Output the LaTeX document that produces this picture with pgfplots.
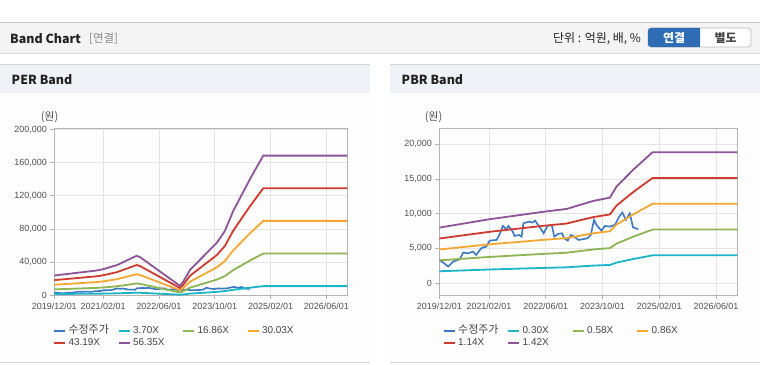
\documentclass[border=0pt]{standalone}
\usepackage{fontspec}
\setmainfont{Liberation Sans}
\newfontfamily\kr{Noto Sans CJK KR}
\usepackage{pgfplots}
\pgfplotsset{compat=1.18}
\definecolor{cprice}{HTML}{3A78C3}
\definecolor{ccyan}{HTML}{1CB4C8}
\definecolor{cgreen}{HTML}{8CB553}
\definecolor{corange}{HTML}{F5A731}
\definecolor{cred}{HTML}{CF3A2E}
\definecolor{cpurple}{HTML}{8D5499}
\definecolor{framegray}{HTML}{B4B4B4}
\definecolor{gridgray}{HTML}{E4E4E4}
\definecolor{ticklab}{HTML}{505050}
\definecolor{hdrbg}{HTML}{F4F4F4}
\definecolor{hdrtop}{HTML}{C4C4C4}
\definecolor{hdrbot}{HTML}{DCDCDC}
\definecolor{panelhdr}{HTML}{EFF2F7}
\definecolor{panelline}{HTML}{D6D6D6}
\definecolor{panelbg}{HTML}{FDFDFD}
\definecolor{btnblue}{HTML}{2E6DB4}
\definecolor{btnborder}{HTML}{BBBBBB}
\definecolor{txtdark}{HTML}{222222}
\definecolor{txtgray}{HTML}{888888}
\definecolor{txtmid}{HTML}{444444}

\pgfplotsset{
  bandaxis/.style={
    scale only axis, anchor=south west,
    axis line style={draw=framegray, line width=1bp},
    grid=major, major grid style={draw=gridgray, line width=0.8bp},
    tick style={draw=framegray, line width=0.8bp},
    tick align=outside, major tick length=4bp,
    xtick pos=left, ytick pos=left,
    xmin=0, xmax=84,
    xtick={0,14,30,46,62,78},
    xticklabels={2019/12/01,2021/02/01,2022/06/01,2023/10/01,2025/02/01,2026/06/01},
    scaled y ticks=false,
    tick label style={font=\fontsize{9}{10}\selectfont, text=ticklab},
    /pgf/number format/assume math mode=true,
    /pgf/number format/1000 sep={,},
    /pgf/number format/fixed,
    legend columns=4,
    legend cell align=left,
    legend image code/.code={\draw[##1, line width=2bp] (0bp,0bp) -- (11bp,0bp);},
    legend style={draw=none, fill=none, inner sep=0pt, outer sep=0pt,
      column sep=0pt, row sep=2bp,
      font=\fontsize{10}{12}\selectfont, text=txtmid,
      nodes={inner sep=0pt, text height=8bp, text depth=2.5bp},
      /tikz/every odd column/.append style={column sep=2.5bp}},
    every axis plot/.append style={no markers},
  }
}

\begin{document}
\begin{tikzpicture}[x=1bp,y=1bp]
\useasboundingbox (0,0) rectangle (760,364);
\fill[white] (0,0) rectangle (760,364);
% ---- page header ----
\fill[hdrbg] (0,311) rectangle (760,342);
\draw[hdrtop, line width=1.2bp] (0,341.6) -- (760,341.6);
\draw[hdrbot, line width=1.5bp] (0,310.5) -- (760,310.5);
\node[anchor=west, inner sep=0pt, font=\kr\bfseries\fontsize{12.5}{14}\selectfont, text=txtdark] at (10,325) {Band Chart};
\node[anchor=west, inner sep=0pt, font=\kr\fontsize{11.5}{13}\selectfont, text=txtgray] at (89,325) {[연결]};
\node[anchor=east, inner sep=0pt, font=\kr\fontsize{12}{13}\selectfont, text=txtdark] at (641,325) {단위 : 억원, 배, \%};
\draw[btnborder, fill=white, rounded corners=3bp, line width=0.8bp] (648,317) rectangle (751,336);
\begin{scope}
\clip (647,316) rectangle (700,337);
\fill[btnblue, rounded corners=3bp] (648,317) rectangle (712,336);
\end{scope}
\node[inner sep=0pt, font=\kr\bfseries\fontsize{12}{13}\selectfont, text=white] at (674,326.5) {연결};
\node[inner sep=0pt, font=\kr\bfseries\fontsize{12}{13}\selectfont, text=txtmid] at (725.5,326.5) {별도};
% ---- panels ----
\fill[panelbg] (0,1.5) rectangle (370,271);
\fill[panelbg] (390,1.5) rectangle (760,271);
\fill[panelhdr] (0,271) rectangle (370,300);
\fill[panelhdr] (390,271) rectangle (760,300);
\draw[panelline, line width=1bp] (0,300) -- (370,300);
\draw[panelline, line width=1bp] (390,300) -- (760,300);
\draw[panelline, line width=1.2bp] (0,1.2) -- (370,1.2);
\draw[panelline, line width=1.2bp] (390,1.2) -- (760,1.2);
\node[anchor=west, inner sep=0pt, font=\kr\bfseries\fontsize{12.5}{14}\selectfont, text=txtdark] at (11.5,284) {PER Band};
\node[anchor=west, inner sep=0pt, font=\kr\bfseries\fontsize{12.5}{14}\selectfont, text=txtdark] at (401.5,284) {PBR Band};
\node[inner sep=0pt, font=\kr\fontsize{11}{12}\selectfont, text=ticklab] at (49.5,246.5) {(원)};
\node[inner sep=0pt, font=\kr\fontsize{11}{12}\selectfont, text=ticklab] at (433.5,246.5) {(원)};

% ---- PER Band ----
\begin{axis}[bandaxis, at={(54.3bp,68.7bp)}, width=293bp, height=167bp,
  ymin=0, ymax=201500, ytick={0,40000,80000,120000,160000,200000},
  legend style={at={(-0.0044,-0.1805)}, anchor=north west}]
\addplot[cprice, line width=1.6bp] coordinates {(0,3350) (1.2,2900) (2.5,2356) (3.9,3077) (5.8,3413) (6.7,4375) (8.1,4279) (9.5,4519) (10.4,4038) (11.8,5000) (13.2,5240) (14.2,6106) (16.1,6200) (16.7,6683) (17.5,7644) (17.9,8221) (18.9,7740) (19.5,8221) (20.7,7404) (21.2,6779) (22.5,6923) (23.2,6683) (23.7,8606) (25.4,8846) (26.3,8702) (27.0,8990) (28.5,7885) (29.4,7163) (30.5,8221) (31.7,8365) (32.4,6683) (33.5,7067) (34.6,7163) (35.2,6442) (36.2,6106) (37.1,6923) (38.1,6683) (39.2,6202) (40.4,6298) (41.8,6442) (42.7,6923) (43.6,9087) (44.3,8365) (45.7,7548) (46.7,8221) (48.1,8125) (49.5,8365) (50.7,9567) (51.6,10144) (52.6,9087) (53.7,10048) (54.6,8029) (56.1,7740)};
\addlegendentry{\makebox[49bp][l]{\kr\fontsize{11}{12}\selectfont 수정주가}}
\addplot[ccyan, line width=1.8bp] coordinates {(0,1569) (12.1,1963) (14,2068) (18,2397) (23.6,3132) (24.6,3020) (36,755) (37,1090) (38.9,2016) (41.8,2824) (46.6,4163) (48.9,5095) (51.3,6684) (56.1,9206) (59.9,11064) (84,11064)};
\addlegendentry{\makebox[49bp][l]{3.70X}}
\addplot[cgreen, line width=1.8bp] coordinates {(0,7150) (12.1,8946) (14,9425) (18,10920) (23.6,14272) (24.6,13763) (36,3441) (37,4967) (38.9,9185) (41.8,12866) (46.6,18969) (48.9,23218) (51.3,30459) (56.1,41948) (59.9,50415) (84,50415)};
\addlegendentry{\makebox[49bp][l]{16.86X}}
\addplot[corange, line width=1.8bp] coordinates {(0,12736) (12.1,15934) (14,16787) (18,19450) (23.6,25420) (24.6,24514) (36,6129) (37,8847) (38.9,16360) (41.8,22916) (46.6,33787) (48.9,41354) (51.3,54252) (56.1,74715) (59.9,89796) (84,89796)};
\addlegendentry{\makebox[49bp][l]{30.03X}}
\addplot[cred, line width=1.8bp] coordinates {(0,18317) (12.1,22917) (14,24143) (18,27974) (23.6,36560) (24.6,35256) (36,8815) (37,12724) (38.9,23530) (41.8,32958) (46.6,48593) (48.9,59477) (51.3,78027) (56.1,107457) (59.9,129147) (84,129147)};
\addlegendentry{\makebox[49bp][l]{43.19X}}
\addplot[cpurple, line width=1.8bp] coordinates {(0,23900) (12.1,29900) (14,31500) (18,36500) (23.6,47700) (24.6,46000) (36,11500) (37,16600) (38.9,30700) (41.8,43000) (46.6,63400) (48.9,77600) (51.3,101800) (56.1,140200) (59.9,168500) (84,168500)};
\addlegendentry{\makebox[49bp][l]{56.35X}}
\end{axis}

% ---- PBR Band ----
\begin{axis}[bandaxis, at={(439.3bp,68.7bp)}, width=298bp, height=167bp,
  ymin=-1780, ymax=22300, ytick={0,5000,10000,15000,20000},
  legend style={at={(0.0114,-0.1805)}, anchor=north west}]
\addplot[cprice, line width=1.6bp] coordinates {(0,3350) (1.2,2900) (2.5,2356) (3.9,3077) (5.8,3413) (6.7,4375) (8.1,4279) (9.5,4519) (10.4,4038) (11.8,5000) (13.2,5240) (14.2,6106) (16.1,6200) (16.7,6683) (17.5,7644) (17.9,8221) (18.9,7740) (19.5,8221) (20.7,7404) (21.2,6779) (22.5,6923) (23.2,6683) (23.7,8606) (25.4,8846) (26.3,8702) (27.0,8990) (28.5,7885) (29.4,7163) (30.5,8221) (31.7,8365) (32.4,6683) (33.5,7067) (34.6,7163) (35.2,6442) (36.2,6106) (37.1,6923) (38.1,6683) (39.2,6202) (40.4,6298) (41.8,6442) (42.7,6923) (43.6,9087) (44.3,8365) (45.7,7548) (46.7,8221) (48.1,8125) (49.5,8365) (50.7,9567) (51.6,10144) (52.6,9087) (53.7,10048) (54.6,8029) (56.1,7740)};
\addlegendentry{\makebox[49bp][l]{\kr\fontsize{11}{12}\selectfont 수정주가}}
\addplot[ccyan, line width=1.8bp] coordinates {(0,1686) (14.1,1940) (29.7,2174) (35.9,2255) (39.6,2377) (43.4,2499) (48.1,2600) (49.95,2936) (54.6,3443) (60.1,3982) (84,3982)};
\addlegendentry{\makebox[49bp][l]{0.30X}}
\addplot[cgreen, line width=1.8bp] coordinates {(0,3260) (14.1,3751) (29.7,4202) (35.9,4359) (39.6,4595) (43.4,4831) (48.1,5027) (49.95,5675) (54.6,6657) (60.1,7698) (84,7698)};
\addlegendentry{\makebox[49bp][l]{0.58X}}
\addplot[corange, line width=1.8bp] coordinates {(0,4833) (14.1,5562) (29.7,6231) (35.9,6464) (39.6,6814) (43.4,7163) (48.1,7455) (49.95,8415) (54.6,9870) (60.1,11414) (84,11414)};
\addlegendentry{\makebox[49bp][l]{0.86X}}
\addplot[cred, line width=1.8bp] coordinates {(0,6407) (14.1,7372) (29.7,8259) (35.9,8568) (39.6,9032) (43.4,9495) (48.1,9882) (49.95,11155) (54.6,13084) (60.1,15130) (84,15130)};
\addlegendentry{\makebox[49bp][l]{1.14X}}
\addplot[cpurple, line width=1.8bp] coordinates {(0,7980) (14.1,9183) (29.7,10288) (35.9,10673) (39.6,11251) (43.4,11827) (48.1,12309) (49.95,13895) (54.6,16297) (60.1,18846) (84,18846)};
\addlegendentry{\makebox[49bp][l]{1.42X}}
\end{axis}
\end{tikzpicture}
\end{document}
